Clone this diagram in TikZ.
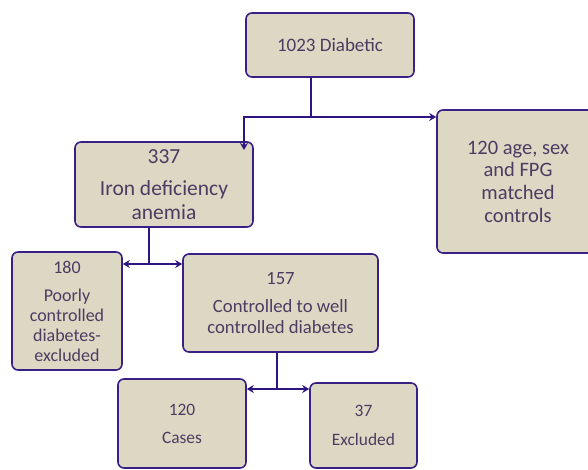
\documentclass[tikz,border=0pt]{standalone}
\usepackage{fontspec}
\setmainfont{Carlito}
\usetikzlibrary{arrows.meta}
\definecolor{boxfill}{HTML}{DDD8C4}
\definecolor{boxline}{HTML}{3A1F85}
\definecolor{conn}{HTML}{2E1580}
\definecolor{txt}{HTML}{4A3D62}
\tikzset{
  box/.style={draw=boxline, line width=1.6pt, fill=boxfill, rounded corners=6pt,
    text=txt, align=center, inner sep=0pt},
  link/.style={draw=conn, line width=2.6pt},
  arr/.style={link, -{Stealth[length=7pt,width=8pt]}},
}
\begin{document}
\begin{tikzpicture}[x=1pt,y=-1pt]
\useasboundingbox (0,0) rectangle (588,470);
\begin{scope}
\clip (0,0) rectangle (588,470);
\node[box, minimum width=168pt, minimum height=64pt, font=\fontsize{19}{22}\selectfont] (b1) at (330,45) {1023 Diabetic};
\node[box, minimum width=178pt, minimum height=85pt, font=\fontsize{21.5}{24}\selectfont] (b2) at (164,184.5) {337\\[8pt]Iron deficiency\\anemia};
\node[box, minimum width=162pt, minimum height=143pt, font=\fontsize{20.5}{22.7}\selectfont] (b3) at (518,181.5) {120 age, sex\\and FPG\\matched\\controls};
\node[box, minimum width=110pt, minimum height=118pt, font=\fontsize{18}{20}\selectfont] (b4) at (67,311) {180\\[8pt]Poorly\\controlled\\diabetes-\\excluded};
\node[box, minimum width=195pt, minimum height=98pt, font=\fontsize{18.7}{21}\selectfont] (b5) at (280.5,303) {157\\[7pt]Controlled to well\\controlled diabetes};
\node[box, minimum width=128pt, minimum height=89pt, font=\fontsize{17.4}{28}\selectfont] (b6) at (182,423.5) {120\\Cases};
\node[box, minimum width=107pt, minimum height=85pt, font=\fontsize{17.4}{29}\selectfont] (b7) at (363.5,425.5) {37\\Excluded};
\end{scope}
\coordinate (j1) at (311,117);
\coordinate (a2) at (244,150);
\coordinate (j2) at (149,264);
\coordinate (j3) at (277,389);
\draw[link] (b1.south -| j1) -- (j1);
\draw[arr] (j1) -| (a2);
\draw[arr] (j1) -- (j1 -| b3.west);
\draw[link] (b2.south -| j2) -- (j2);
\draw[arr] (j2) -- (j2 -| b4.east);
\draw[arr] (j2) -- (j2 -| b5.west);
\draw[link] (b5.south -| j3) -- (j3);
\draw[arr] (j3) -- (j3 -| b6.east);
\draw[arr] (j3) -- (j3 -| b7.west);
\end{tikzpicture}
\end{document}
